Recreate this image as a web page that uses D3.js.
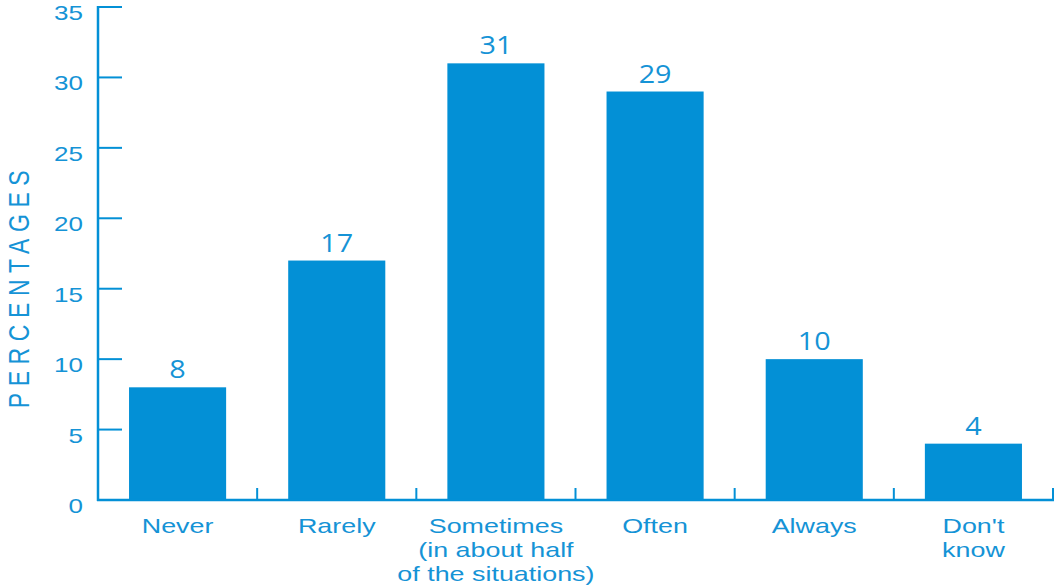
<!DOCTYPE html>
<html>
<head>
<meta charset="utf-8">
<script src="https://cdn.jsdelivr.net/npm/d3@7"></script>
<style>
  html, body { margin: 0; padding: 0; background: #fff; }
  svg { display: block; }
</style>
</head>
<body>
<svg id="chart" width="1058" height="585"></svg>
<script>
// Survey responses (percent of respondents)
const categories = ["Never", "Rarely", "Sometimes\n(in about half\nof the situations)", "Often", "Always", "Don't\nknow"];
const percentages = [8, 17, 31, 29, 10, 4];
const yTicks = [0, 5, 10, 15, 20, 25, 30, 35];

const blue = "#0390d6";
const textBlue = "#1593d6";
const sans = "'Liberation Sans', Arial, sans-serif";
const svg = d3.select("#chart");

const x = d3.scaleBand().domain(categories).range([98, 1053]).paddingInner(0.39).paddingOuter(0.195);
const y = d3.scaleLinear().domain([0, 35]).range([500, 7]);

// Bars
svg.append("g").selectAll("rect")
  .data(percentages)
  .join("rect")
  .attr("x", (d, i) => x(categories[i]))
  .attr("width", x.bandwidth())
  .attr("y", d => y(d))
  .attr("height", d => y(0) - y(d))
  .attr("fill", blue);

// Value labels above bars (wide set type)
svg.append("g").selectAll("g")
  .data(percentages)
  .join("g")
  .attr("transform", (d, i) => `translate(${x(categories[i]) + x.bandwidth() / 2},${y(d) - 9}) scale(1.15,1)`)
  .append("text")
  .attr("text-anchor", "middle")
  .attr("font-family", "'Open Sans', sans-serif")
  .attr("font-size", 25)
  .attr("fill", textBlue)
  .text(d => d);

// Y axis: line with inward ticks
const yAxis = svg.append("g");
yAxis.append("line")
  .attr("x1", 98).attr("x2", 98)
  .attr("y1", y(35) - 1).attr("y2", y(0) + 1)
  .attr("stroke", blue).attr("stroke-width", 2.5);
yAxis.selectAll("line.tick")
  .data(yTicks)
  .join("line")
  .attr("class", "tick")
  .attr("x1", 98).attr("x2", 122)
  .attr("y1", d => y(d)).attr("y2", d => y(d))
  .attr("stroke", blue).attr("stroke-width", 2);
yAxis.selectAll("g.lbl")
  .data(yTicks)
  .join("g")
  .attr("class", "lbl")
  .attr("transform", d => `translate(83,${y(d) + 6}) scale(1.3,1)`)
  .append("text")
  .attr("dy", "0.35em")
  .attr("text-anchor", "end")
  .attr("font-family", sans)
  .attr("font-size", 20)
  .attr("fill", textBlue)
  .text(d => d);

// X axis: baseline with short upward ticks at band edges
const xAxis = svg.append("g");
xAxis.append("line")
  .attr("x1", 97).attr("x2", 1054)
  .attr("y1", y(0)).attr("y2", y(0))
  .attr("stroke", blue).attr("stroke-width", 2.5);
const edges = categories.map(c => x(c) + x.bandwidth() + x.step() * x.paddingInner() / 2);
xAxis.selectAll("line.tick")
  .data(edges)
  .join("line")
  .attr("class", "tick")
  .attr("x1", d => d).attr("x2", d => d)
  .attr("y1", y(0)).attr("y2", y(0) - 12)
  .attr("stroke", blue).attr("stroke-width", 2);

// Category labels (multi-line, wide set)
const catLabels = xAxis.selectAll("g.cat")
  .data(categories)
  .join("g")
  .attr("class", "cat")
  .attr("transform", d => `translate(${x(d) + x.bandwidth() / 2},533) scale(1.28,1)`)
  .append("text")
  .attr("text-anchor", "middle")
  .attr("font-family", sans)
  .attr("font-size", 21)
  .attr("fill", textBlue);
catLabels.selectAll("tspan")
  .data(d => d.split("\n"))
  .join("tspan")
  .attr("x", 0)
  .attr("dy", (d, i) => i === 0 ? 0 : 24)
  .text(d => d);

// Y axis title (rotated, glyphs stretched across the axis)
svg.append("text")
  .attr("transform", "translate(29,286) rotate(-90) scale(1,1.27)")
  .attr("text-anchor", "middle")
  .attr("font-family", sans)
  .attr("font-size", 23)
  .attr("letter-spacing", 6.6)
  .attr("fill", textBlue)
  .text("PERCENTAGES");
</script>
</body>
</html>
